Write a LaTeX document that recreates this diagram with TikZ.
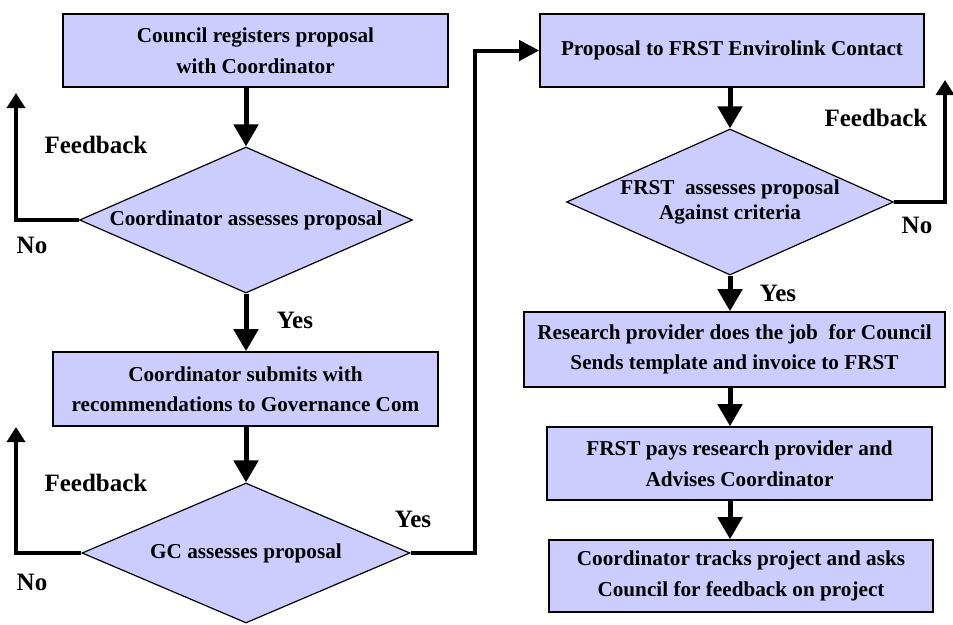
\documentclass[tikz,border=0pt]{standalone}
\usepackage{fontspec}
\setmainfont{Liberation Serif}
\usepackage{xcolor}
\usetikzlibrary{shapes.geometric, arrows.meta, positioning}
\definecolor{lavender}{HTML}{CCCCFF}
\tikzset{
	block/.style={draw, line width=1.6pt, fill=lavender, align=center, inner sep=0pt, font=\bfseries\fontsize{21.2}{30.5}\selectfont},
	decision/.style={diamond, draw, line width=1.2pt, fill=lavender, align=center, inner sep=0pt, aspect=2.2, font=\bfseries\fontsize{21.2}{25}\selectfont},
	flow/.style={line width=5pt, -{Triangle[width=24pt,length=22pt]}},
	loopback/.style={line width=3.5pt, -{Triangle[width=18pt,length=15pt]}},
	link/.style={line width=4pt, -{Triangle[width=20pt,length=20pt]}},
	tag/.style={inner sep=0pt, font=\bfseries\fontsize{25}{28}\selectfont}
}
\begin{document}
\begin{tikzpicture}[x=1pt, y=-1pt]
		\useasboundingbox (0,0) rectangle (953,624);
		\node[block, minimum width=385pt, minimum height=73pt] (register) at (255.5,50.5) {Council registers proposal\\with Coordinator};
		\node[decision, minimum width=333pt, minimum height=146pt] (coordcheck) at (246,220) {Coordinator assesses proposal};
		\node[block, minimum width=385pt, minimum height=74pt] (submit) at (245.5,389) {Coordinator submits with\\recommendations to Governance Com};
		\node[decision, minimum width=328pt, minimum height=140pt] (gccheck) at (246,553) {GC assesses proposal};
		\node[block, minimum width=384pt, minimum height=73pt] (contact) at (732,50.5) {Proposal to FRST Envirolink Contact};
		\node[decision, minimum width=327pt, minimum height=146pt] (frstcheck) at (730,202) {FRST\ \ assesses proposal\\Against criteria};
		\node[block, minimum width=421pt, minimum height=75pt] (job) at (734.5,349.5) {Research provider does the job\ \ for Council\\Sends template and invoice to FRST};
		\node[block, minimum width=385pt, minimum height=73pt] (pays) at (739.5,463.5) {FRST pays research provider and\\Advises Coordinator};
		\node[block, minimum width=384pt, minimum height=72pt] (tracks) at (741,576) {Coordinator tracks project and asks\\Council for feedback on project};
		
		\coordinate (fbone) at (16,93);
		\coordinate (fbtwo) at (16,427);
		\coordinate (fbthree) at (945,80);
		\coordinate (bend) at (475,50.5);
		
		\draw[flow] (register.south -| coordcheck.north) -- (coordcheck.north);
		\draw[flow] (coordcheck.south) -- (submit.north -| coordcheck.south);
		\draw[flow] (submit.south -| gccheck.north) -- (gccheck.north);
		\draw[flow] (contact.south -| frstcheck.north) -- (frstcheck.north);
		\draw[flow] (frstcheck.south) -- (job.north -| frstcheck.south);
		\draw[flow] (job.south -| frstcheck.south) -- (pays.north -| frstcheck.south);
		\draw[flow] (pays.south -| frstcheck.south) -- (tracks.north -| frstcheck.south);
		
		\draw[loopback] (coordcheck.west) -| (fbone);
		\draw[loopback] (gccheck.west) -| (fbtwo);
		\draw[loopback] (frstcheck.east) -| (fbthree);
		\draw[link] (gccheck.east) -| (bend) -- (contact.west);
		
		\node[tag] (fbonetag) at (96,145) {Feedback};
		\node[tag] (noone) at (32,245) {No};
		\node[tag] (yesone) at (295,320) {Yes};
		\node[tag] (fbtwotag) at (96,483) {Feedback};
		\node[tag] (notwo) at (32,582) {No};
		\node[tag] (yestwo) at (413,519) {Yes};
		\node[tag] (fbthreetag) at (876,118) {Feedback};
		\node[tag] (nothree) at (917,225) {No};
		\node[tag] (yesthree) at (778,293) {Yes};
	\end{tikzpicture}
\end{document}
